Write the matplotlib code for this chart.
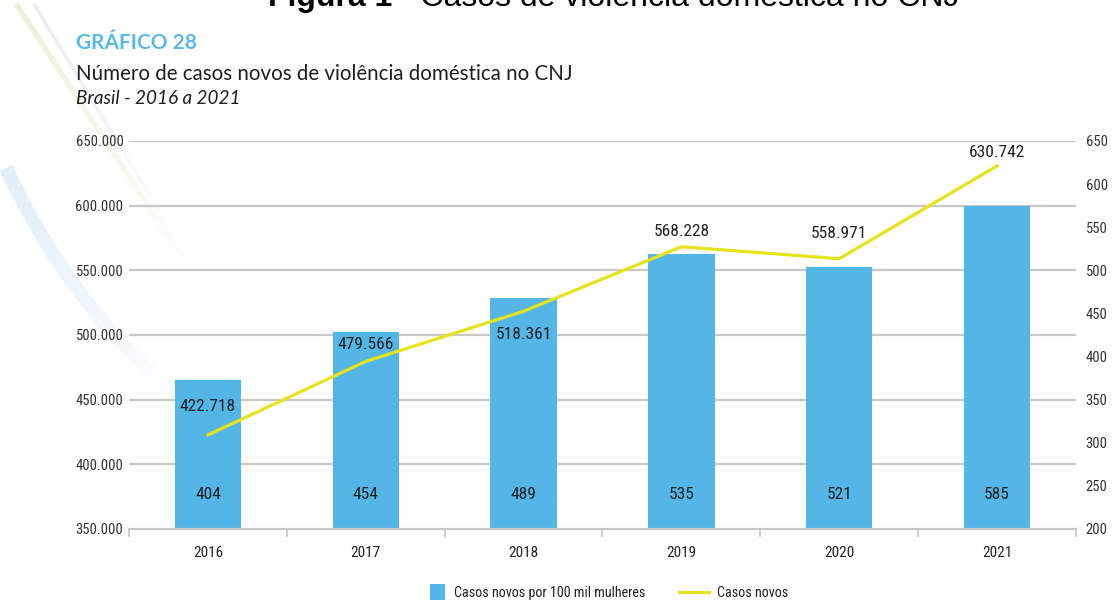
import matplotlib
matplotlib.use("Agg")
import matplotlib.pyplot as plt
import numpy as np
from matplotlib import font_manager as fm
from matplotlib.patches import Patch, Rectangle
from matplotlib.lines import Line2D
from matplotlib.legend_handler import HandlerPatch
from matplotlib.collections import LineCollection
from matplotlib.colors import to_rgba

# ---- data ----
years = ["2016", "2017", "2018", "2019", "2020", "2021"]
casos_novos = [422718, 479566, 518361, 568228, 558971, 630742]
casos_100mil = [404, 454, 489, 535, 521, 585]
left_ticks = [350000, 400000, 450000, 500000, 550000, 600000, 650000]
right_ticks = [200, 250, 300, 350, 400, 450, 500, 550, 600, 650]

# ---- style ----
names = {f.name for f in fm.fontManager.ttflist}
narrow = "Roboto"
for cand in ["Roboto Condensed", "Liberation Sans Narrow", "DejaVu Sans Condensed",
             "Open Sans Condensed", "Roboto"]:
    if cand in names:
        narrow = cand
        break
BLUE = "#53b6e6"
YELLOW = "#e6e21c"
GRID = "#c8c8c8"
TXT = "#222222"
label_offsets = [28, 17, -23, 15, 25, 13]  # px, label position relative to line point

fig = plt.figure(figsize=(11.13, 6.01), dpi=100)
W, H = 1113, 601

def fx(x):
    return x / W

def fy(y):
    return 1 - y / H

# decorative faint swooshes in background
deco = fig.add_axes([0, 0, 1, 1], zorder=-5)
deco.set_xlim(0, W)
deco.set_ylim(H, 0)
deco.axis("off")

def swoosh(p0, p1, p2, color, lw, a0=1.0, a1=0.0):
    t = np.linspace(0, 1, 80)[:, None]
    pts = (1 - t) ** 2 * np.array(p0) + 2 * (1 - t) * t * np.array(p1) + t ** 2 * np.array(p2)
    segs = np.stack([pts[:-1], pts[1:]], axis=1)
    alphas = np.linspace(a0, a1, len(segs))
    cols = [to_rgba(color, a) for a in alphas]
    deco.add_collection(LineCollection(segs, colors=cols, linewidths=lw, capstyle="butt"))

swoosh((6, 168), (75, 315), (185, 400), "#dcedf9", 10, 0.9, 0.0)
swoosh((16, 4), (105, 140), (205, 292), "#e8f0d2", 4, 0.9, 0.0)
swoosh((34, 4), (110, 130), (190, 262), "#e2e6f0", 2.5, 0.8, 0.0)

ax_grid = fig.add_axes([fx(129), fy(529), fx(1076) - fx(129), (529 - 141) / H], zorder=0)
ax_grid.set_xlim(-0.5, 5.5)
ax_grid.set_ylim(350000, 650000)
for v in left_ticks[1:]:
    ax_grid.axhline(v, color=GRID, lw=1.6)
ax_grid.axis("off")

ax = fig.add_axes(ax_grid.get_position(), zorder=2)
ax.patch.set_visible(False)
ax_bar = fig.add_axes(ax_grid.get_position(), zorder=1)
ax_bar.patch.set_visible(False)
ax_r = fig.add_axes(ax_grid.get_position(), zorder=3)
ax_r.patch.set_visible(False)

x = np.arange(len(years))

# bars on hidden axis
ax_bar.bar(x, casos_100mil, width=0.42, color=BLUE)
ax_bar.set_xlim(-0.5, 5.5)
ax_bar.set_ylim(249.3, 652.2)
ax_bar.axis("off")

# line on left axis
ax.plot(x, casos_novos, color=YELLOW, lw=2.3, zorder=5)
ax.set_ylim(350000, 650000)
ax.set_xlim(-0.5, 5.5)
ax.set_yticks(left_ticks)
ax.set_yticklabels([f"{v:,}".replace(",", ".") for v in left_ticks])
ax.tick_params(axis="y", length=0, pad=4, labelsize=10.5, labelcolor="#333333")
for lab in ax.get_yticklabels():
    lab.set_fontfamily(narrow)
for s in ["left", "right", "top"]:
    ax.spines[s].set_visible(False)
ax.spines["bottom"].set_color(GRID)
ax.spines["bottom"].set_linewidth(1.6)
ax.set_xticks(x)
ax.set_xticklabels(years, fontfamily=narrow, fontsize=11, color=TXT)
ax.set_xticks(np.arange(-0.5, 6, 1), minor=True)
ax.tick_params(axis="x", which="major", length=0, pad=12)
ax.tick_params(axis="x", which="minor", length=6, color=GRID, width=1.3)

# right axis labels
ax_r.set_xlim(-0.5, 5.5)
ax_r.set_ylim(200, 650)
ax_r.yaxis.tick_right()
ax_r.set_yticks(right_ticks)
ax_r.set_xticks([])
ax_r.tick_params(axis="y", length=0, pad=7, labelsize=10.5, labelcolor="#333333")
for lab in ax_r.get_yticklabels():
    lab.set_fontfamily(narrow)
for s in ax_r.spines.values():
    s.set_visible(False)

# line labels
for xi, v, off in zip(x, casos_novos, label_offsets):
    ax.annotate(f"{v:,}".replace(",", "."), (xi, v), xytext=(0, off * 0.72),
                textcoords="offset points", ha="center", va="center",
                fontfamily=narrow, fontsize=12.5, color=TXT, zorder=6)

# bar labels near bottom
for xi, v in zip(x, casos_100mil):
    ax_bar.text(xi, 0.09, str(v), transform=ax_bar.get_xaxis_transform(),
                ha="center", va="center", fontfamily=narrow, fontsize=12.5, color=TXT)

# titles
t1 = fig.text(fx(268), fy(6), "Figura 1", ha="left", va="baseline", fontsize=23,
              fontweight="bold", fontfamily="Liberation Sans", color="black")
fig.canvas.draw()
bb = t1.get_window_extent()
fig.text(bb.x1 / W, fy(6), " - Casos de violência doméstica no CNJ", ha="left",
         va="baseline", fontsize=23, fontfamily="Liberation Sans", color="black")
fig.text(fx(76), fy(49), "GRÁFICO 28", ha="left", va="baseline", fontsize=15,
         fontweight="bold", fontfamily="Lato", color="#5ab9e8")
fig.text(fx(76), fy(80), "Número de casos novos de violência doméstica no CNJ",
         ha="left", va="baseline", fontsize=14.8, fontfamily="Lato", color="#1e1e1e")
fig.text(fx(76), fy(104), "Brasil - 2016 a 2021", ha="left", va="baseline",
         fontsize=13.6, fontstyle="italic", fontfamily="Lato", color="#1e1e1e")

# legend
class SquareHandler(HandlerPatch):
    def create_artists(self, legend, orig_handle, xdescent, ydescent, width, height,
                       fontsize, trans):
        s = height * 1.4
        r = Rectangle((width - s - xdescent, -ydescent - (s - height) / 2), s, s,
                      facecolor=orig_handle.get_facecolor(), edgecolor="none",
                      transform=trans)
        return [r]

handles = [Patch(color=BLUE, label="Casos novos por 100 mil mulheres"),
           Line2D([], [], color=YELLOW, lw=2.3, label="Casos novos")]
fig.legend(handles=handles, loc="center", bbox_to_anchor=(fx(602), fy(593)), ncol=2,
           frameon=False, prop={"family": narrow, "size": 10.2}, handlelength=2.1,
           handleheight=0.8, columnspacing=2.4, handletextpad=0.6, labelcolor=TXT,
           handler_map={Patch: SquareHandler()})

fig.savefig("out.png", dpi=100)
